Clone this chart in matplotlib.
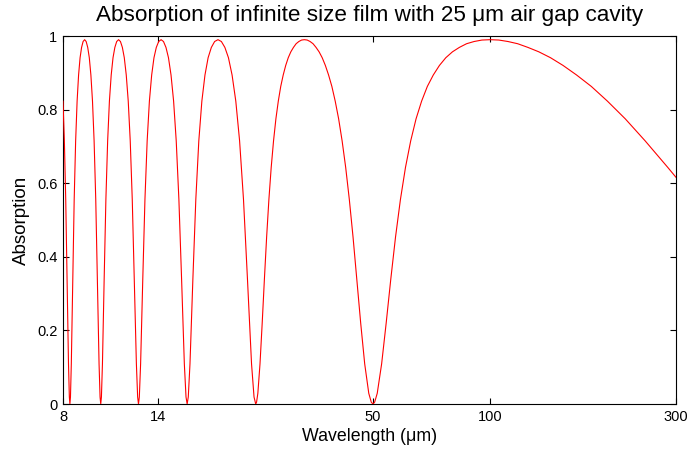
import matplotlib
matplotlib.use("Agg")
import matplotlib.pyplot as plt
from matplotlib.ticker import FixedLocator, FixedFormatter, NullLocator

plt.rcParams['font.family'] = ['Liberation Sans', 'DejaVu Sans']

# wavelength samples (um)
wavelength = [
    8.0, 8.065, 8.130, 8.197, 8.264, 8.306, 8.333,
    8.361, 8.403, 8.475, 8.547, 8.621, 8.696, 8.772, 8.850, 8.929, 9.009, 9.091,
    9.174, 9.259, 9.346, 9.434, 9.524, 9.615, 9.709, 9.804, 9.901, 9.960, 10.0,
    10.040, 10.101, 10.204, 10.309, 10.417, 10.526, 10.638, 10.753, 10.870, 10.989, 11.111,
    11.236, 11.364, 11.494, 11.628, 11.765, 11.905, 12.048, 12.195, 12.346, 12.438, 12.5,
    12.563, 12.658, 12.821, 12.987, 13.158, 13.333, 13.514, 13.699, 13.889, 14.085, 14.286,
    14.493, 14.706, 14.925, 15.152, 15.385, 15.625, 15.873, 16.129, 16.393, 16.556, 16.667,
    16.779, 16.949, 17.241, 17.544, 17.857, 18.182, 18.519, 18.868, 19.231, 19.608, 20.0,
    20.408, 20.833, 21.277, 21.739, 22.222, 22.727, 23.256, 23.810, 24.390, 24.752, 25.0,
    25.126, 25.316, 25.641, 25.974, 26.316, 26.667, 27.027, 27.397, 27.778, 28.169, 28.571,
    28.986, 29.412, 29.851, 30.303, 30.769, 31.25, 31.746, 32.258, 32.787, 33.333,
    33.898, 34.483, 35.088, 35.714, 36.364, 37.037, 37.736, 38.462, 39.216, 40.0,
    40.816, 41.667, 42.553, 43.478, 44.444, 45.455, 46.512, 47.619, 48.780, 49.505, 50.0,
    50.505, 51.282, 52.632, 54.054, 55.556, 57.143, 58.824, 60.606, 62.5, 64.516, 66.667,
    68.966, 71.429, 74.074, 76.923, 80.0, 83.333, 86.957, 90.909, 95.238, 100.0,
    105.26, 111.11, 117.65, 125.0, 133.33, 142.86, 153.85, 166.67, 181.82, 200.0,
    222.22, 250.0, 285.71, 300.0,
]

absorption = [
    0.823, 0.715, 0.556, 0.339, 0.109, 0.019, 0.0,
    0.019, 0.109, 0.339, 0.556, 0.715, 0.823, 0.894, 0.941, 0.969, 0.985, 0.990,
    0.985, 0.969, 0.941, 0.894, 0.823, 0.715, 0.556, 0.339, 0.109, 0.019, 0.0,
    0.019, 0.109, 0.339, 0.556, 0.715, 0.823, 0.894, 0.941, 0.969, 0.985, 0.990,
    0.985, 0.969, 0.941, 0.894, 0.823, 0.715, 0.556, 0.339, 0.109, 0.019, 0.0,
    0.019, 0.109, 0.339, 0.556, 0.715, 0.823, 0.894, 0.941, 0.969, 0.985, 0.990,
    0.985, 0.969, 0.941, 0.894, 0.823, 0.715, 0.556, 0.339, 0.109, 0.019, 0.0,
    0.019, 0.109, 0.339, 0.556, 0.715, 0.823, 0.894, 0.941, 0.969, 0.985, 0.990,
    0.985, 0.969, 0.941, 0.894, 0.823, 0.715, 0.556, 0.339, 0.109, 0.019, 0.0,
    0.005, 0.029, 0.109, 0.219, 0.339, 0.454, 0.556, 0.643, 0.715, 0.775, 0.823,
    0.863, 0.894, 0.920, 0.941, 0.957, 0.969, 0.979, 0.985, 0.989, 0.990,
    0.989, 0.985, 0.979, 0.969, 0.957, 0.941, 0.920, 0.894, 0.863, 0.823,
    0.775, 0.715, 0.643, 0.556, 0.454, 0.339, 0.219, 0.109, 0.029, 0.005, 0.0,
    0.005, 0.029, 0.109, 0.219, 0.339, 0.454, 0.556, 0.643, 0.715, 0.775, 0.823,
    0.863, 0.894, 0.920, 0.941, 0.957, 0.969, 0.979, 0.985, 0.989, 0.990,
    0.989, 0.985, 0.979, 0.969, 0.957, 0.941, 0.920, 0.894, 0.863, 0.823,
    0.775, 0.715, 0.643, 0.616,
]

x_ticks = [8, 14, 50, 100, 300]
x_ticklabels = ['8', '14', '50', '100', '300']
y_ticks = [0, 0.2, 0.4, 0.6, 0.8, 1]
y_ticklabels = ['0', '0.2', '0.4', '0.6', '0.8', '1']

fig = plt.figure(figsize=(6.92, 4.5), dpi=100)
ax = fig.add_axes([63 / 692, 1 - 404 / 450, (676 - 63) / 692, (404 - 36) / 450])

ax.plot(wavelength, absorption, color='#ff0000', lw=0.8, zorder=3)

ax.set_xscale('log')
ax.set_xlim(8, 300)
ax.set_ylim(0, 1)

ax.xaxis.set_major_locator(FixedLocator(x_ticks))
ax.xaxis.set_major_formatter(FixedFormatter(x_ticklabels))
ax.xaxis.set_minor_locator(NullLocator())
ax.yaxis.set_major_locator(FixedLocator(y_ticks))
ax.yaxis.set_major_formatter(FixedFormatter(y_ticklabels))

ax.tick_params(direction='in', top=True, right=True, length=4, width=0.8,
               labelsize=10.5, pad=4, colors='black')
for sp in ax.spines.values():
    sp.set_linewidth(0.8)
    sp.set_color('black')

ax.set_title('Absorption of infinite size film with 25 \u03bcm air gap cavity',
             fontsize=16.2, pad=10.5)
ax.set_xlabel('Wavelength (\u03bcm)', fontsize=12.8, labelpad=3)
ax.set_ylabel('Absorption', fontsize=13.5, labelpad=5)

fig.savefig('out.png', dpi=100)
